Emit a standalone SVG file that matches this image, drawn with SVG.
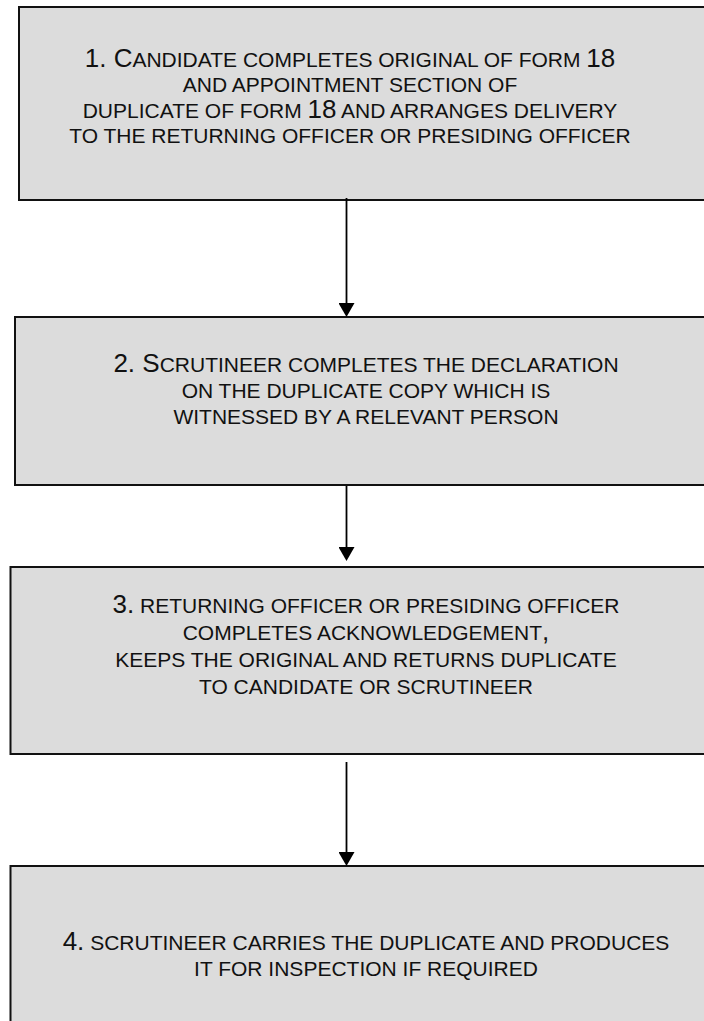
<svg xmlns="http://www.w3.org/2000/svg" width="704" height="1021" viewBox="0 0 704 1021">
  <style>
    .box { fill: #dcdcdc; stroke: #111; stroke-width: 2; }
    .t { font-family: "Liberation Sans", Arial, sans-serif; fill: #111; text-anchor: middle; }
    .s { font-size: 21px; }
    .b { font-size: 26px; }
    .conn { stroke: #000; stroke-width: 1.8; fill: none; marker-end: url(#arrow); }
  </style>
  <defs>
    <marker id="arrow" markerUnits="userSpaceOnUse" viewBox="0 0 14 16" markerWidth="14" markerHeight="16" refX="6" refY="8" orient="auto">
      <path d="M0,0 L14,8 L0,16 Z" fill="#000"/>
    </marker>
  </defs>
  <rect width="704" height="1021" fill="#fff"/>

  <g id="node1">
    <rect class="box" x="19" y="7" width="700" height="193"/>
    <text class="t s" x="350" y="67"><tspan class="b">1. C</tspan>ANDIDATE COMPLETES ORIGINAL OF FORM <tspan class="b">18</tspan></text>
    <text class="t s" x="350" y="92">AND APPOINTMENT SECTION OF</text>
    <text class="t s" x="350" y="118">DUPLICATE OF FORM <tspan class="b">18</tspan> AND ARRANGES DELIVERY</text>
    <text class="t s" x="350" y="143">TO THE RETURNING OFFICER OR PRESIDING OFFICER</text>
  </g>

  <g id="node2">
    <rect class="box" x="15" y="317" width="704" height="168"/>
    <text class="t s" x="366" y="372"><tspan class="b">2. S</tspan>CRUTINEER COMPLETES THE DECLARATION</text>
    <text class="t s" x="366" y="398">ON THE DUPLICATE COPY WHICH IS</text>
    <text class="t s" x="366" y="424">WITNESSED BY A RELEVANT PERSON</text>
  </g>

  <g id="node3">
    <rect class="box" x="10.5" y="567" width="710" height="187"/>
    <text class="t s" x="366" y="613"><tspan class="b">3.</tspan> RETURNING OFFICER OR PRESIDING OFFICER</text>
    <text class="t s" x="366" y="640">COMPLETES ACKNOWLEDGEMENT<tspan class="b">,</tspan></text>
    <text class="t s" x="366" y="667">KEEPS THE ORIGINAL AND RETURNS DUPLICATE</text>
    <text class="t s" x="366" y="694">TO CANDIDATE OR SCRUTINEER</text>
  </g>

  <g id="node4">
    <rect class="box" x="10.5" y="866" width="710" height="170"/>
    <text class="t s" x="366" y="950"><tspan class="b">4.</tspan> SCRUTINEER CARRIES THE DUPLICATE AND PRODUCES</text>
    <text class="t s" x="366" y="976">IT FOR INSPECTION IF REQUIRED</text>
  </g>

  <g id="connectors">
    <line class="conn" x1="346.5" y1="198" x2="346.5" y2="309"/>
    <line class="conn" x1="346.5" y1="486" x2="346.5" y2="553"/>
    <line class="conn" x1="346.5" y1="762" x2="346.5" y2="858"/>
  </g>
</svg>
